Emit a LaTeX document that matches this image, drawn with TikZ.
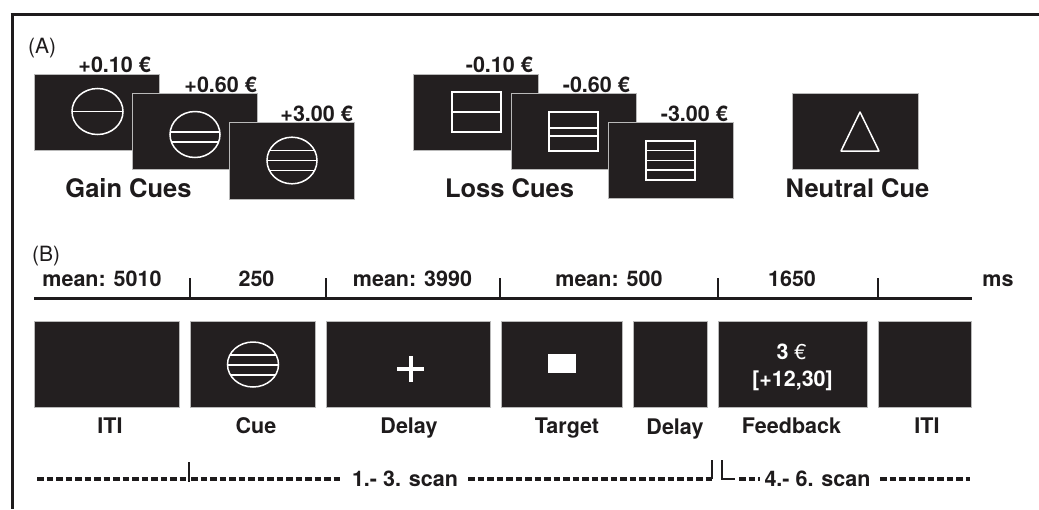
\documentclass[tikz,border=0pt]{standalone}
\usepackage{fontspec}
\setmainfont{TeX Gyre Heros}
\definecolor{scr}{RGB}{35,31,32}
\definecolor{ink}{RGB}{30,27,28}
\newcommand\fntlab{\fontsize{21.5}{26}\selectfont\bfseries}
\newcommand\fntbig{\fontsize{25.5}{30}\selectfont\bfseries}
\newcommand\fntreg{\fontsize{21}{25}\selectfont}
\begin{document}
\begin{tikzpicture}[x=1pt,y=-1pt,
  screen/.style={fill=scr, draw=gray!55, line width=0.7pt, inner sep=0, outer sep=0, minimum height=76},
  tscreen/.style={screen, minimum height=86},
  wl/.style={draw=white, line width=1.5pt},
  lab/.style={font=\fntlab, text=ink, inner sep=0, anchor=base},
  amt/.style={font=\fntlab, text=ink, inner sep=0, anchor=base east},
  big/.style={font=\fntbig, text=ink, inner sep=0, anchor=base},
  panel/.style={font=\fntreg, text=ink, inner sep=0, anchor=base west},
  frame/.style={draw=ink, line width=3pt},
  tline/.style={draw=ink, line width=3pt},
  dsh/.style={draw=ink, line width=3.2pt, dash pattern=on 6.5pt off 3pt},
  tk/.style={draw=ink, line width=2.6pt}]
\useasboundingbox (0,0) rectangle (1039,509);
\fill[white] (0,0) rectangle (1039,509);
% frame
\coordinate (fA) at (10.5,14); \coordinate (fB) at (1039,14);
\coordinate (fC) at (12,14); \coordinate (fD) at (12,509);
\draw[frame] (fA) -- (fB);
\draw[frame] (fC) -- (fD);

% ---------------- Panel A ----------------
\node[panel] (pA) at (28,53) {(A)};

% gain cues
\node[screen, minimum width=125] (g1) at (97,112) {};
\begin{scope}
  \clip (97.5,111.5) ellipse [x radius=25.5, y radius=23];
  \draw[wl] (60,111.5) -- (140,111.5);
\end{scope}
\draw[wl] (97.5,111.5) ellipse [x radius=25.5, y radius=23];
\node[screen, minimum width=125] (g2) at (194.5,131) {};
\begin{scope}
  \clip (195,134.5) ellipse [x radius=25, y radius=23];
  \draw[wl] (160,132) -- (230,132);
  \draw[wl] (160,142) -- (230,142);
\end{scope}
\draw[wl] (195,134.5) ellipse [x radius=25, y radius=23];
\node[screen, minimum width=125, minimum height=77] (g3) at (291.5,160.5) {};
\begin{scope}
  \clip (292,160.5) ellipse [x radius=25, y radius=23.3];
  \draw[wl] (260,150.7) -- (325,150.7);
  \draw[wl] (260,160.7) -- (325,160.7);
  \draw[wl] (260,170.7) -- (325,170.7);
\end{scope}
\draw[wl] (292,160.5) ellipse [x radius=25, y radius=23.3];
\node[amt] (ga1) at (151,72) {+0.10 €};
\node[amt] (ga2) at (257,92) {+0.60 €};
\node[amt] (ga3) at (353,121.5) {+3.00 €};
\node[big] (gl) at (128.5,197.5) {Gain Cues};

% loss cues
\node[screen, minimum width=125] (l1) at (475.5,112) {};
\draw[wl] (452,92) rectangle (501,132);
\draw[wl] (452,112) -- (501,112);
\node[screen, minimum width=125] (l2) at (573.5,131) {};
\draw[wl] (549,112) rectangle (598,151);
\draw[wl] (549,128) -- (598,128);
\draw[wl] (549,136) -- (598,136);
\node[screen, minimum width=125] (l3) at (670.5,160) {};
\draw[wl] (646,141) rectangle (695,180);
\draw[wl] (646,150.7) -- (695,150.7);
\draw[wl] (646,160.5) -- (695,160.5);
\draw[wl] (646,170.2) -- (695,170.2);
\node[amt] (la1) at (533,72) {-0.10 €};
\node[amt] (la2) at (630,92) {-0.60 €};
\node[amt] (la3) at (728,121) {-3.00 €};
\node[big] (ll) at (509.5,197) {Loss Cues};

% neutral cue
\node[screen, minimum width=126] (n1) at (855,131) {};
\draw[wl, line join=round] (860,112) -- (879,151) -- (841,151) -- cycle;
\node[big] (nl) at (857.5,197) {Neutral Cue};

% ---------------- Panel B ----------------
\node[panel] (pB) at (32,261.5) {(B)};

% timeline
\coordinate (t0) at (34,298); \coordinate (t9) at (972,298);
\draw[tline] (t0) -- (t9);
\foreach \x/\n in {190/a,326/b,500/c,718/d,878/e}{
  \coordinate (tt\n) at (\x,278);
  \coordinate (tb\n) at (\x,298);
  \draw[tk] (tt\n) -- (tb\n);
}
\node[lab] (d1) at (102,286) {mean: 5010};
\node[lab] (d2) at (256.5,286) {250};
\node[lab] (d3) at (412.5,286) {mean: 3990};
\node[lab] (d4) at (609,286) {mean: 500};
\node[lab] (d5) at (792,286) {1650};
\node[lab] (d6) at (998,286) {ms};

% trial screens
\node[tscreen, minimum width=145] (iti1) at (106.5,364) {};
\node[tscreen, minimum width=125] (cue) at (252.5,364) {};
\node[tscreen, minimum width=164] (del1) at (408,364) {};
\node[tscreen, minimum width=121] (tgt) at (561.5,364) {};
\node[tscreen, minimum width=74] (del2) at (670,364) {};
\node[tscreen, minimum width=149] (fb) at (792.5,364) {};
\node[tscreen, minimum width=93] (iti2) at (924.5,364) {};

% cue symbol
\begin{scope}
  \clip (253,364.5) ellipse [x radius=25.5, y radius=22.5];
  \draw[wl] (220,355) -- (290,355);
  \draw[wl] (220,365) -- (290,365);
  \draw[wl] (220,375) -- (290,375);
\end{scope}
\draw[wl] (253,364.5) ellipse [x radius=25.5, y radius=22.5];
% fixation cross
\fill[white] (397,367) rectangle (424,371);
\fill[white] (408.5,356) rectangle (412.5,382);
% target
\fill[white] (548,354) rectangle (576,373);
% feedback text
\node[lab, text=white] (fbt1) at (791.5,359) {3 \mdseries€};
\node[lab, text=white] (fbt2) at (792.5,386) {[+12,30]};

% screen labels
\node[lab] (x1) at (110,433) {ITI};
\node[lab] (x2) at (256,433) {Cue};
\node[lab] (x3) at (409,433) {Delay};
\node[lab] (x4) at (567,433) {Target};
\node[lab] (x5) at (675,434.5) {Delay};
\node[lab] (x6) at (791.5,433) {Feedback};
\node[lab] (x7) at (927,433) {ITI};

% scan lines
\node[lab] (s1) at (405,486.5) {1.- 3. scan};
\node[lab] (s2) at (817.5,486.5) {4.- 6. scan};
\coordinate (b0) at (37,479);
\coordinate (b1) at (189,479);
\coordinate (b1t) at (189,462); \coordinate (b1b) at (189,482);
\coordinate (b2) at (191,479);
\coordinate (b3) at (343,479);
\coordinate (b4) at (468,479);
\coordinate (b5) at (712,479);
\coordinate (b5t) at (712,460);
\coordinate (b6t) at (722,460);
\coordinate (b6) at (722,479);
\coordinate (b7) at (735,479);
\coordinate (b8) at (739,479);
\coordinate (b9) at (760,479);
\coordinate (b10) at (880,479);
\coordinate (b11) at (970,479);
\draw[dsh] (b0) -- (b1);
\draw[tk] (b1t) -- (b1b);
\draw[dsh] (b2) -- (b3);
\draw[dsh] (b4) -- (b5);
\draw[tk] (b5t) -- (b5);
\draw[tk] (b6t) -- (b6) -- (b7);
\draw[dsh] (b8) -- (b9);
\draw[dsh] (b10) -- (b11);
\end{tikzpicture}
\end{document}
